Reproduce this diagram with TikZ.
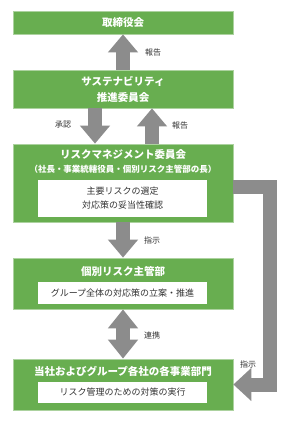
\documentclass[tikz,border=0pt]{standalone}
\usepackage{fontspec}
\setmainfont{Noto Sans CJK JP}
\usetikzlibrary{arrows.meta,positioning,calc}
\definecolor{boxgreen}{HTML}{68AE50}
\definecolor{arrowgray}{HTML}{8C8C8C}
\definecolor{labelgray}{HTML}{333333}

\begin{document}
\begin{tikzpicture}[
    x=1pt,y=-1pt,
    panel/.style={draw=boxgreen!55!white,line width=0.7pt,fill=boxgreen,minimum width=220pt,
                  inner sep=0pt,align=center,text=white,font=\fontsize{10.5}{16}\selectfont\bfseries},
    title/.style={font=\fontsize{10.5}{12}\selectfont\bfseries,text=white,inner sep=0pt},
    task/.style={fill=white,minimum width=169pt,inner sep=0pt,align=center,
                 font=\fontsize{9}{14}\selectfont,text=labelgray},
    lbl/.style={font=\fontsize{8}{9}\selectfont,text=labelgray,anchor=west,inner sep=0pt},
    fat/.style={draw=arrowgray,line width=14pt,line join=miter,-{Triangle[width=29pt,length=18pt]}},
    fatboth/.style={draw=arrowgray,line width=14pt,
                    {Triangle[width=29pt,length=19pt]}-{Triangle[width=29pt,length=19pt]}},
  ]
  \useasboundingbox (0,0) rectangle (292,423);

  % committees
  \node[panel,minimum height=23pt] (board) at (123,22.5) {取締役会};
  \node[panel,minimum height=38pt] (sus) at (123,89) {サステナビリティ\\推進委員会};

  \node[panel,minimum height=78pt] (rm) at (123,183) {};
  \node[title] (rmtitle) at (123,155) {リスクマネジメント委員会};
  \node[title,font=\fontsize{8.5}{10}\selectfont\bfseries] (rmsub) at (123,169)
    {（社長・事業統轄役員・個別リスク主管部の長）};
  \node[task,minimum height=37pt] (rmtask) at (122.5,198.5) {主要リスクの選定\\対応策の妥当性確認};

  \node[panel,minimum height=51pt] (indiv) at (123,283.5) {};
  \node[title] (indivtitle) at (123,271) {個別リスク主管部};
  \node[task,minimum height=22pt] (indivtask) at (122.5,293) {グループ全体の対応策の立案・推進};

  \node[panel,minimum height=51pt] (dept) at (123,384.5) {};
  \node[title] (depttitle) at (123,371) {当社およびグループ各社の各事業部門};
  \node[task,minimum height=21pt] (depttask) at (122.5,392.5) {リスク管理のための対策の実行};

  % flows
  \draw[fat] (sus.north) -- (board.south);
  \draw[fat] ([xshift=-28pt]sus.south) -- ([xshift=-28pt]rm.north);
  \draw[fat] ([xshift=29pt]rm.north) -- ([xshift=29pt]sus.south);
  \draw[fat] (rm.south) -- (indiv.north);
  \draw[fatboth] (indiv.south) -- (dept.north);
  \coordinate (elbow) at (270,384.5);
  \draw[fat,-{Triangle[width=32pt,length=18pt]}] ([yshift=-3.5pt]rm.east) -| (elbow) -- (dept.east);

  \node[lbl] (report1) at (145,52) {報告};
  \node[lbl] (approve) at (55,125) {承認};
  \node[lbl] (report2) at (172,125) {報告};
  \node[lbl] (order1) at (144,240) {指示};
  \node[lbl] (link) at (144,335) {連携};
  \node[lbl] (order2) at (240,364) {指示};
\end{tikzpicture}
\end{document}
